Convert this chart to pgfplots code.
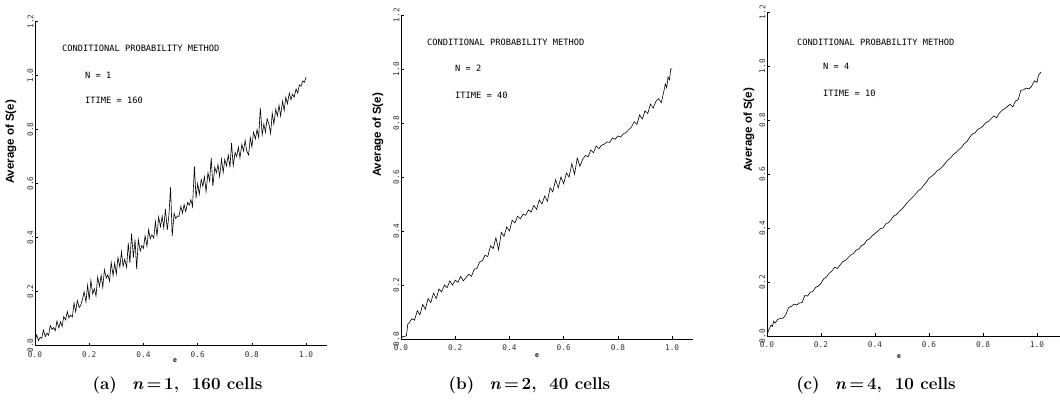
\documentclass[border=0pt]{standalone}
\usepackage{fontspec}
\usepackage{pgfplots}
\pgfplotsset{compat=1.18}
\newfontfamily\plotfont{DejaVu Sans Mono}
\newfontfamily\labfont{Liberation Sans}

\pgfplotsset{
  panel/.style={
    scale only axis,
    axis lines=left,
    axis line style={-, line width=0.9pt, black},
    xmin=0, ymin=0, ymax=1.2,
    height=324pt,
    anchor=south west,
    xtick={0,0.2,0.4,0.6,0.8,1.0},
    xticklabels={0.0,0.2,0.4,0.6,0.8,1.0},
    ytick={0,0.2,0.4,0.6,0.8,1.0,1.2},
    yticklabels={0.0,0.2,0.4,0.6,0.8,1.0,1.2},
    tick label style={font=\plotfont\fontsize{7.8}{8}\selectfont, black!80},
    yticklabel style={rotate=90, anchor=south, inner sep=1.5pt},
    xticklabel style={anchor=north, inner sep=1pt, yshift=-5pt},
    tick style={black, line width=0.6pt},
    major tick length=3pt,
    tick align=inside,
    clip=false,
  },
  curve/.style={black, line width=0.6pt, mark=none},
}

\begin{document}
\begin{tikzpicture}
\path[use as bounding box] (0,0) rectangle (1060pt,399pt);

% ---------------- panel (a)
\begin{axis}[panel, at={(35pt,53.5pt)}, width=292pt, xmax=1.077]
\addplot[curve] coordinates {
(0.000,0.020)(0.006,0.039)(0.013,0.018)(0.019,0.030)(0.025,0.027)(0.031,0.057)(0.038,0.033)(0.044,0.046)
(0.050,0.038)(0.056,0.074)(0.063,0.060)(0.069,0.066)(0.075,0.055)(0.081,0.091)(0.088,0.065)(0.094,0.088)
(0.100,0.070)(0.106,0.107)(0.113,0.095)(0.119,0.126)(0.125,0.103)(0.131,0.112)(0.138,0.106)(0.144,0.158)
(0.150,0.125)(0.156,0.167)(0.163,0.141)(0.169,0.150)(0.175,0.171)(0.181,0.199)(0.188,0.161)(0.194,0.223)
(0.200,0.170)(0.206,0.241)(0.213,0.191)(0.219,0.210)(0.225,0.183)(0.231,0.253)(0.238,0.219)(0.244,0.260)
(0.250,0.215)(0.256,0.281)(0.263,0.250)(0.269,0.262)(0.275,0.238)(0.281,0.308)(0.288,0.259)(0.294,0.305)
(0.300,0.265)(0.306,0.326)(0.313,0.290)(0.319,0.347)(0.325,0.293)(0.331,0.320)(0.338,0.289)(0.344,0.380)
(0.350,0.305)(0.356,0.414)(0.363,0.326)(0.369,0.392)(0.375,0.283)(0.381,0.393)(0.388,0.350)(0.394,0.370)
(0.400,0.360)(0.406,0.406)(0.413,0.368)(0.419,0.429)(0.425,0.395)(0.431,0.410)(0.438,0.398)(0.444,0.459)
(0.450,0.405)(0.456,0.476)(0.463,0.440)(0.469,0.479)(0.475,0.435)(0.481,0.506)(0.488,0.428)(0.494,0.484)
(0.500,0.586)(0.506,0.405)(0.513,0.490)(0.519,0.470)(0.525,0.480)(0.531,0.478)(0.538,0.515)(0.544,0.490)
(0.550,0.522)(0.556,0.496)(0.563,0.530)(0.569,0.520)(0.575,0.540)(0.581,0.515)(0.588,0.663)(0.594,0.545)
(0.600,0.600)(0.606,0.560)(0.613,0.615)(0.619,0.590)(0.625,0.625)(0.631,0.570)(0.638,0.640)(0.644,0.610)
(0.650,0.695)(0.656,0.590)(0.663,0.660)(0.669,0.640)(0.675,0.670)(0.681,0.625)(0.688,0.690)(0.694,0.640)
(0.700,0.690)(0.706,0.665)(0.713,0.705)(0.719,0.660)(0.725,0.750)(0.731,0.665)(0.738,0.715)(0.744,0.700)
(0.750,0.735)(0.756,0.695)(0.763,0.745)(0.769,0.720)(0.775,0.760)(0.781,0.720)(0.788,0.706)(0.794,0.770)
(0.800,0.735)(0.806,0.790)(0.813,0.765)(0.819,0.800)(0.825,0.770)(0.831,0.880)(0.838,0.780)(0.844,0.820)
(0.850,0.790)(0.856,0.840)(0.863,0.820)(0.869,0.785)(0.875,0.860)(0.881,0.820)(0.888,0.875)(0.894,0.850)
(0.900,0.890)(0.906,0.850)(0.913,0.905)(0.919,0.870)(0.925,0.920)(0.931,0.895)(0.938,0.935)(0.944,0.910)
(0.950,0.930)(0.956,0.920)(0.963,0.950)(0.969,0.935)(0.975,0.965)(0.981,0.960)(0.988,0.980)(0.994,0.975)
(1.000,0.995)
};
\end{axis}

% ---------------- panel (b)
\begin{axis}[panel, at={(401pt,60pt)}, width=292pt, xmax=1.077]
\addplot[curve] coordinates {
(0.000,0.000)(0.005,0.008)(0.010,0.010)(0.015,0.010)(0.020,0.012)(0.025,0.055)(0.030,0.060)(0.040,0.075)
(0.050,0.070)(0.060,0.105)(0.070,0.090)(0.080,0.128)(0.090,0.110)(0.100,0.150)(0.110,0.135)(0.120,0.170)
(0.130,0.150)(0.140,0.185)(0.150,0.175)(0.160,0.200)(0.170,0.190)(0.180,0.215)(0.190,0.200)(0.200,0.218)
(0.210,0.210)(0.220,0.232)(0.230,0.215)(0.240,0.228)(0.250,0.240)(0.260,0.232)(0.270,0.258)(0.280,0.262)
(0.290,0.285)(0.300,0.290)(0.310,0.310)(0.320,0.305)(0.330,0.345)(0.340,0.335)(0.350,0.375)(0.360,0.330)
(0.370,0.395)(0.380,0.380)(0.390,0.415)(0.400,0.400)(0.410,0.440)(0.420,0.430)(0.430,0.455)(0.440,0.445)
(0.450,0.462)(0.460,0.458)(0.470,0.478)(0.480,0.470)(0.490,0.495)(0.500,0.480)(0.510,0.515)(0.520,0.500)
(0.530,0.530)(0.540,0.510)(0.550,0.560)(0.560,0.545)(0.570,0.590)(0.580,0.560)(0.590,0.600)(0.600,0.575)
(0.610,0.615)(0.620,0.600)(0.630,0.650)(0.640,0.610)(0.650,0.670)(0.660,0.640)(0.670,0.665)(0.680,0.680)
(0.690,0.675)(0.700,0.700)(0.710,0.690)(0.720,0.715)(0.730,0.705)(0.740,0.718)(0.750,0.722)(0.760,0.730)
(0.770,0.728)(0.780,0.745)(0.790,0.740)(0.800,0.752)(0.810,0.748)(0.820,0.760)(0.830,0.765)(0.840,0.775)
(0.850,0.785)(0.860,0.805)(0.870,0.795)(0.880,0.830)(0.890,0.815)(0.900,0.845)(0.910,0.835)(0.920,0.870)
(0.930,0.855)(0.940,0.880)(0.950,0.890)(0.960,0.875)(0.970,0.920)(0.975,0.945)(0.980,0.930)(0.985,0.970)
(0.990,0.960)(0.995,1.000)(1.000,1.000)
};
\end{axis}

% ---------------- panel (c)
\begin{axis}[panel, at={(767pt,63pt)}, width=293pt, xmax=1.085]
\addplot[curve] coordinates {
(0.000,0.000)(0.005,0.020)(0.010,0.030)(0.015,0.040)(0.020,0.035)(0.025,0.055)(0.030,0.048)(0.040,0.062)
(0.050,0.065)(0.060,0.066)(0.070,0.080)(0.080,0.105)(0.090,0.110)(0.100,0.118)(0.110,0.115)(0.120,0.122)
(0.130,0.124)(0.140,0.150)(0.150,0.148)(0.160,0.162)(0.170,0.165)(0.180,0.180)(0.190,0.185)(0.200,0.195)
(0.210,0.212)(0.220,0.218)(0.230,0.232)(0.240,0.240)(0.250,0.255)(0.260,0.250)(0.270,0.262)(0.280,0.275)
(0.290,0.280)(0.300,0.290)(0.310,0.300)(0.320,0.305)(0.330,0.318)(0.340,0.322)(0.350,0.335)(0.360,0.340)
(0.370,0.355)(0.380,0.360)(0.390,0.372)(0.400,0.380)(0.410,0.388)(0.420,0.398)(0.430,0.400)(0.440,0.415)
(0.450,0.420)(0.460,0.432)(0.470,0.445)(0.480,0.450)(0.490,0.462)(0.500,0.470)(0.510,0.482)(0.520,0.495)
(0.530,0.505)(0.540,0.515)(0.550,0.525)(0.560,0.538)(0.570,0.545)(0.580,0.558)(0.590,0.570)(0.600,0.585)
(0.610,0.592)(0.620,0.600)(0.630,0.612)(0.640,0.618)(0.650,0.628)(0.660,0.640)(0.670,0.652)(0.680,0.660)
(0.690,0.672)(0.700,0.680)(0.710,0.690)(0.720,0.698)(0.730,0.712)(0.740,0.720)(0.750,0.735)(0.760,0.748)
(0.770,0.752)(0.780,0.765)(0.790,0.770)(0.800,0.778)(0.810,0.790)(0.820,0.795)(0.830,0.805)(0.840,0.815)
(0.850,0.808)(0.860,0.825)(0.870,0.835)(0.880,0.842)(0.890,0.850)(0.900,0.858)(0.910,0.848)(0.920,0.870)
(0.930,0.875)(0.940,0.910)(0.950,0.912)(0.960,0.918)(0.970,0.915)(0.980,0.925)(0.990,0.945)(1.000,0.940)
(1.005,0.965)(1.015,0.978)
};
\end{axis}

% ---------------- annotations
\begin{scope}[every node/.style={anchor=west, inner sep=0pt, font=\plotfont\fontsize{8.7}{9}\selectfont}]
\node at (62pt,351pt) {CONDITIONAL PROBABILITY METHOD};
\node at (85pt,324pt) {N = 1};
\node at (85pt,299pt) {ITIME = 160};
\node at (427pt,357pt) {CONDITIONAL PROBABILITY METHOD};
\node at (455pt,331pt) {N = 2};
\node at (455pt,304pt) {ITIME = 40};
\node at (797pt,357pt) {CONDITIONAL PROBABILITY METHOD};
\node at (823pt,333pt) {N = 4};
\node at (823pt,306pt) {ITIME = 10};
\end{scope}

% y labels
\begin{scope}[every node/.style={rotate=90, inner sep=0pt, font=\labfont\bfseries\fontsize{11.5}{12}\selectfont}]
\node at (11pt,257pt) {Average of S(e)};
\node at (378pt,264pt) {Average of S(e)};
\node at (749pt,269pt) {Average of S(e)};
\end{scope}

% x labels
\begin{scope}[every node/.style={inner sep=0pt, font=\labfont\bfseries\fontsize{7}{8}\selectfont}]
\node at (175pt,38pt) {e};
\node at (537pt,43pt) {e};
\node at (899pt,42pt) {e};
\end{scope}

% captions
\begin{scope}[every node/.style={inner sep=0pt, font=\fontsize{17}{19}\selectfont\bfseries}]
\node at (177.5pt,14pt) {(a)\hspace{0.9em}\textit{n}\,=\,1,\ \ 160 cells};
\node at (529.5pt,14pt) {(b)\hspace{0.9em}\textit{n}\,=\,2,\ \ 40 cells};
\node at (876pt,14pt) {(c)\hspace{0.9em}\textit{n}\,=\,4,\ \ 10 cells};
\end{scope}
\end{tikzpicture}
\end{document}
